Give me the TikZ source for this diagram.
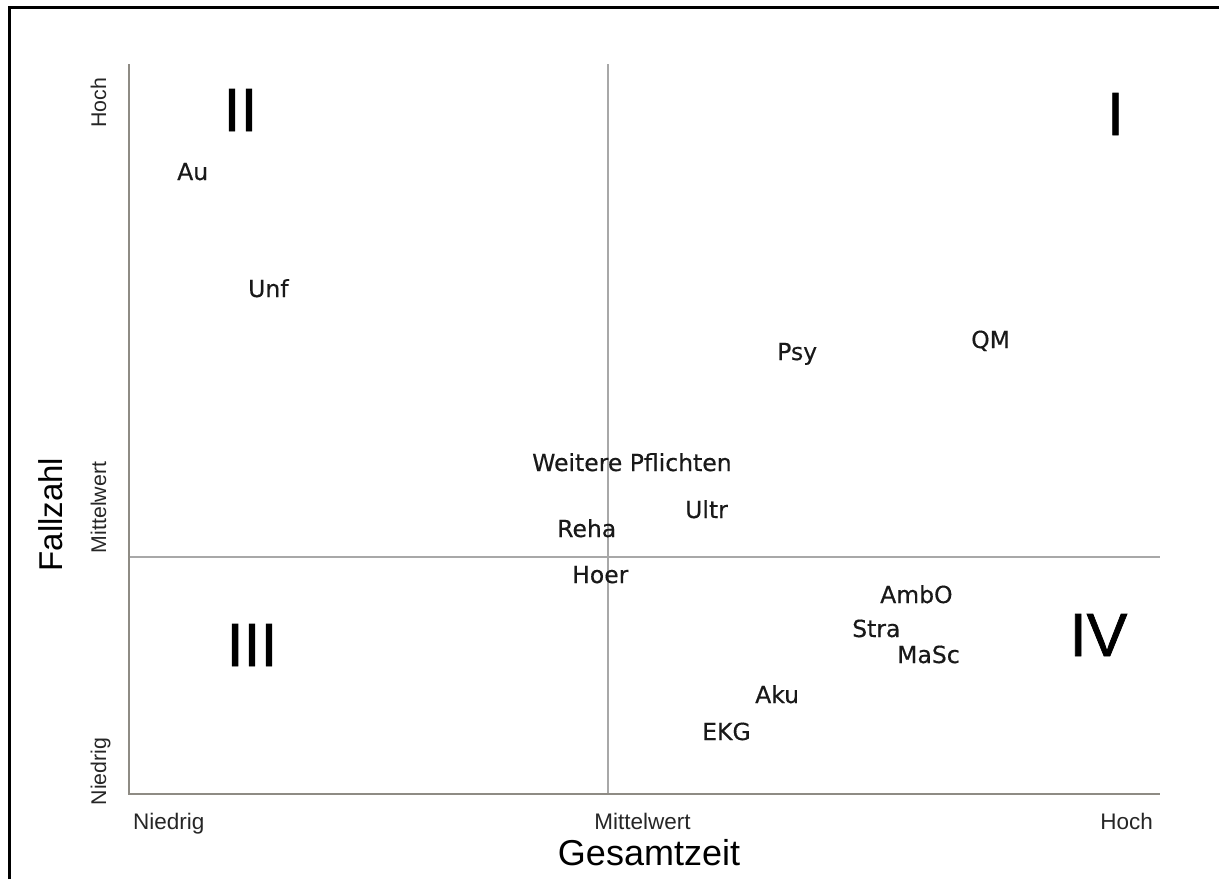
\documentclass[tikz,border=0pt]{standalone}
\usepackage{fontspec}
\setmainfont{Liberation Sans}
\newfontfamily\dejavu[FakeBold=0.4]{DejaVu Sans}
\newfontfamily\romanfont[FakeBold=1.2]{Liberation Sans}
\definecolor{axisgrey}{HTML}{8E8B84}
\definecolor{midgrey}{HTML}{A8A8A8}
\begin{document}
\begin{tikzpicture}[x=1pt,y=-1pt,
  lbl/.style={inner sep=0pt, anchor=base west, font=\dejavu\fontsize{23.5}{28}\selectfont, text=black!90},
  roman/.style={inner sep=0pt, anchor=base, font=\romanfont\fontsize{61}{70}\selectfont},
  ytick/.style={inner sep=0pt, anchor=base, rotate=90, font=\fontsize{21.3}{25}\selectfont, text=black!85},
  xtick/.style={inner sep=0pt, font=\fontsize{22.5}{26}\selectfont, text=black!85},
  axisline/.style={draw=axisgrey, line width=2pt},
  midline/.style={draw=midgrey, line width=1.2pt},
  frameline/.style={draw=black, line width=2.5pt}]
\useasboundingbox (0,0) rectangle (1219,879);
\fill[white] (0,0) rectangle (1219,879);
% frame
\coordinate (f1) at (9.5,879);
\coordinate (f2) at (9.5,7.5);
\coordinate (f3) at (1219,7.5);
\draw[frameline] (f1) -- (f2) -- (f3);
% mid lines
\coordinate (mt) at (608,64);
\coordinate (mb) at (608,794);
\coordinate (ml) at (129,557);
\coordinate (mr) at (1160,557);
\draw[midline] (mt) -- (mb);
\draw[midline] (ml) -- (mr);
% axes
\coordinate (yt) at (129,64);
\coordinate (o) at (129,794);
\coordinate (xr) at (1160,794);
\draw[axisline] (yt) -- (o) -- (xr);
% y tick labels
\node[ytick] (yhoch) at (106,103) {Hoch};
\node[ytick] (ymittel) at (106,507.5) {Mittelwert};
\node[ytick] (yniedrig) at (106,771.5) {Niedrig};
\node[inner sep=0pt, anchor=base, rotate=90, font=\fontsize{33}{38}\selectfont] (ylabel) at (62,514.5) {Fallzahl};
% x tick labels
\node[xtick, anchor=base west] (xniedrig) at (133,829) {Niedrig};
\node[xtick, anchor=base] (xmittel) at (642.5,829) {Mittelwert};
\node[xtick, anchor=base east] (xhoch) at (1153,829) {Hoch};
\node[inner sep=0pt, anchor=base, font=\fontsize{36}{42}\selectfont] (xlabel) at (649,865) {Gesamtzeit};
% quadrant numerals
\node[roman] (qII) at (240.5,131) {II};
\node[roman] (qI) at (1115.5,135) {I};
\node[roman] (qIII) at (252,666) {III};
\node[roman] (qIV) at (1098.5,656) {IV};
% data labels
\node[lbl] (au) at (177,180) {Au};
\node[lbl] (unf) at (248,297) {Unf};
\node[lbl] (psy) at (777,360) {Psy};
\node[lbl] (qm) at (971,348) {QM};
\node[lbl] (wp) at (532,471) {Weitere Pflichten};
\node[lbl] (ultr) at (685,518) {Ultr};
\node[lbl] (reha) at (557,537) {Reha};
\node[lbl] (hoer) at (572,583) {Hoer};
\node[lbl] (ambo) at (880,603) {AmbO};
\node[lbl] (stra) at (852,637) {Stra};
\node[lbl] (masc) at (897,663) {MaSc};
\node[lbl] (aku) at (755,703) {Aku};
\node[lbl] (ekg) at (702,740) {EKG};
\end{tikzpicture}
\end{document}
